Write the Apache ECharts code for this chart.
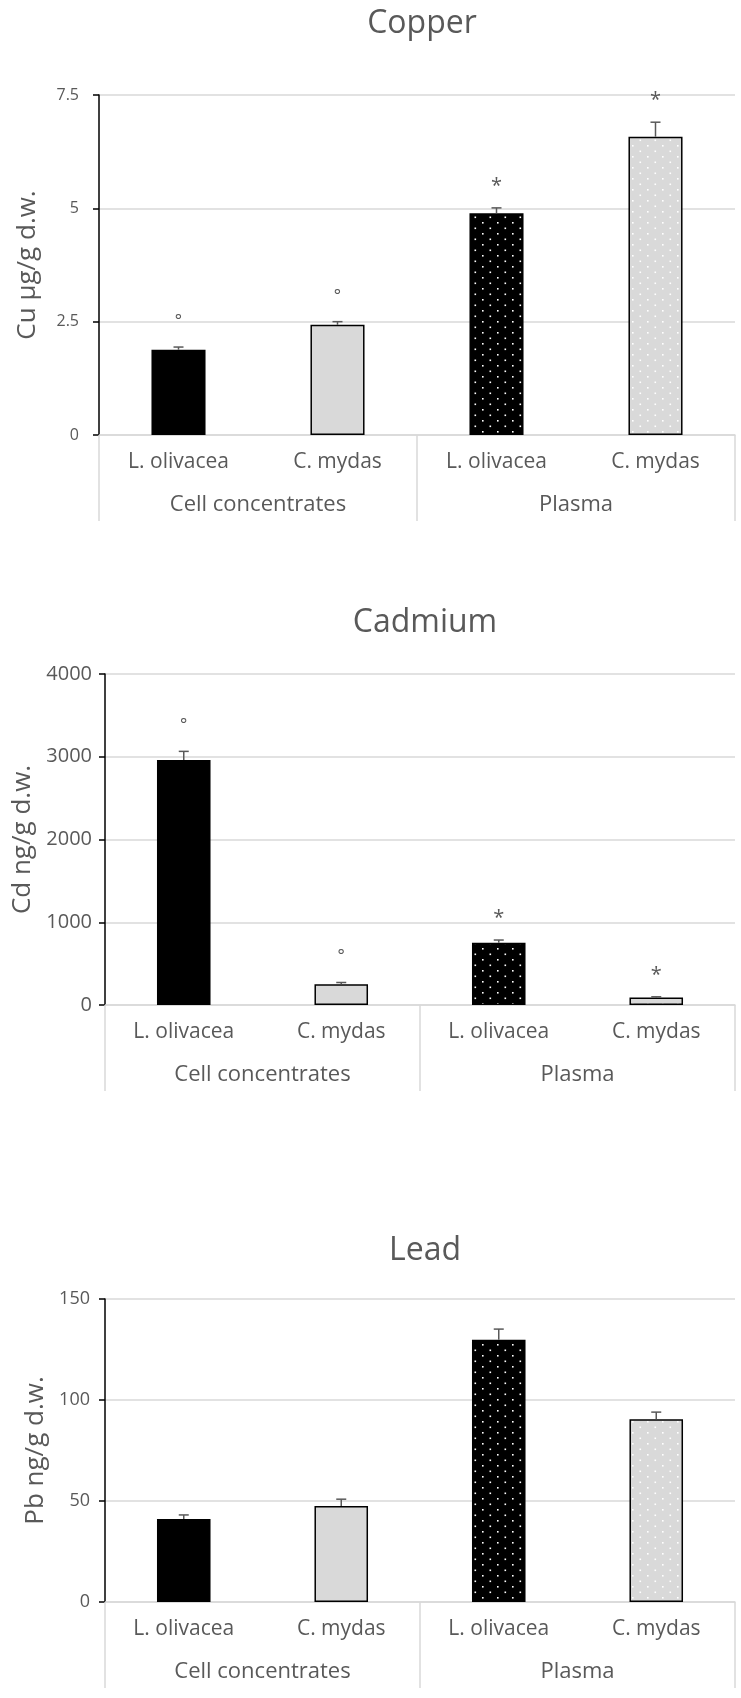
<!DOCTYPE html>
<html>
<head>
<meta charset="utf-8">
<script src="https://cdn.jsdelivr.net/npm/echarts@6/dist/echarts.min.js"></script>
<style>
html,body{margin:0;padding:0;background:#fff;}
#chart{width:741px;height:1698px;}
</style>
</head>
<body>
<div id="chart"></div>
<script>
// ---- data ----
const species = ['L. olivacea', 'C. mydas', 'L. olivacea', 'C. mydas'];
const groups = ['Cell concentrates', 'Plasma'];

const cuValues = [1.88, 2.43, 4.89, 6.58];
const cuErrors = [0.06, 0.07, 0.12, 0.32];
const cuMarks = ['°', '°', '*', '*'];

const cdValues = [2960, 252, 752, 91];
const cdErrors = [105, 20, 33, 8];
const cdMarks = ['°', '°', '*', '*'];

const pbValues = [41.1, 47.5, 129.8, 90.5];
const pbErrors = [2.0, 3.4, 5.3, 3.5];
const pbMarks = ['', '', '', ''];

const titles = ['Copper', 'Cadmium', 'Lead'];
const yNames = ['Cu µg/g d.w.', 'Cd ng/g d.w.', 'Pb ng/g d.w.'];
const yMax = [7.5, 4000, 150];
const yInterval = [2.5, 1000, 50];

// ---- styling ----
const FONT = "'Open Sans', sans-serif";
const TXT = '#595959';
const GRID = '#d9d9d9';

function makePattern(bg) {
  const c = document.createElement('canvas');
  c.width = 15; c.height = 11;
  const ctx = c.getContext('2d');
  ctx.fillStyle = bg; ctx.fillRect(0, 0, 15, 11);
  ctx.fillStyle = '#ffffff';
  ctx.fillRect(2, 2, 1.6, 1.6);
  ctx.fillRect(9.5, 7.5, 1.6, 1.6);
  return c;
}
const barColors = [
  '#000000',
  '#d9d9d9',
  { image: makePattern('#000000'), repeat: 'repeat' },
  { image: makePattern('#d9d9d9'), repeat: 'repeat' }
];

const layouts = [
  { left: 99, top: 95, height: 340, titleTop: 3, nameGap: 58, labelMargin: 20, tickFont: 16 },
  { left: 105, top: 674, height: 331, titleTop: 602, nameGap: 53, labelMargin: 13, tickFont: 20 },
  { left: 105, top: 1299, height: 303, titleTop: 1230, nameGap: 46, labelMargin: 15, tickFont: 18 }
];

const datasets = [
  { values: cuValues, errors: cuErrors, marks: cuMarks },
  { values: cdValues, errors: cdErrors, marks: cdMarks },
  { values: pbValues, errors: pbErrors, marks: pbMarks }
];

const option = {
  animation: false,
  backgroundColor: '#ffffff',
  title: [], grid: [], xAxis: [], yAxis: [], series: []
};

layouts.forEach((L, k) => {
  const plotW = 741 - 6 - L.left;
  option.title.push({
    text: titles[k], left: L.left + plotW / 2, top: L.titleTop, textAlign: 'center',
    textStyle: { fontFamily: FONT, fontSize: 32, fontWeight: 'normal', color: TXT }
  });
  option.grid.push({ left: L.left, right: 6, top: L.top, height: L.height, containLabel: false });
  option.xAxis.push({
    type: 'category', gridIndex: k, data: species, position: 'bottom', offset: 0,
    axisLine: { show: true, lineStyle: { color: GRID, width: 1.5 } },
    axisTick: { show: false },
    axisLabel: { margin: 17, fontFamily: FONT, fontSize: 21, color: TXT, interval: 0 },
    splitLine: { show: false }
  });
  option.xAxis.push({
    type: 'category', gridIndex: k, data: groups, position: 'bottom', offset: 0,
    axisLine: { show: false },
    axisTick: { show: true, length: 86, lineStyle: { color: GRID, width: 1.5 } },
    axisLabel: { margin: 59, fontFamily: FONT, fontSize: 22, color: TXT, interval: 0 },
    splitLine: { show: false }
  });
  option.yAxis.push({
    type: 'value', gridIndex: k, min: 0, max: yMax[k], interval: yInterval[k],
    name: yNames[k], nameLocation: 'middle', nameGap: L.nameGap, nameRotate: 90,
    nameTextStyle: { fontFamily: FONT, fontSize: 26, color: TXT },
    axisLine: { show: true, lineStyle: { color: '#000000', width: 1.5 } },
    axisTick: { show: true, length: 6, lineStyle: { color: '#000000', width: 1.5 } },
    axisLabel: { margin: L.labelMargin, fontFamily: FONT, fontSize: L.tickFont, color: TXT,
      formatter: function (v) { return String(v); } },
    splitLine: { show: true, lineStyle: { color: GRID, width: 1.5 } }
  });
  const D = datasets[k];
  option.series.push({
    type: 'bar', xAxisIndex: 2 * k, yAxisIndex: k, barWidth: '34%',
    data: D.values.map((v, i) => ({
      value: v,
      itemStyle: { color: barColors[i], borderColor: '#000000', borderWidth: 1.5 }
    })),
    z: 2
  });
  option.series.push({
    type: 'custom', xAxisIndex: 2 * k, yAxisIndex: k, z: 5,
    data: D.values.map((v, i) => [i, v, D.errors[i]]),
    renderItem: function (params, api) {
      const i = api.value(0), v = api.value(1), e = api.value(2);
      const base = api.coord([i, v]);
      const top = api.coord([i, v + e]);
      const children = [
        { type: 'line', shape: { x1: base[0], y1: base[1], x2: top[0], y2: top[1] },
          style: { stroke: TXT, lineWidth: 1.5 } },
        { type: 'line', shape: { x1: top[0] - 5, y1: top[1], x2: top[0] + 5, y2: top[1] },
          style: { stroke: TXT, lineWidth: 1.5 } }
      ];
      const m = D.marks[params.dataIndex];
      if (m) {
        const isStar = m === '*';
        children.push({
          type: 'text',
          style: {
            text: m, x: top[0], y: top[1] - 27 + (isStar ? 5 : 1),
            align: 'center', verticalAlign: 'middle',
            fontFamily: FONT, fontSize: isStar ? 20 : 17, fill: TXT
          }
        });
      }
      return { type: 'group', children: children };
    }
  });
});

const chart = echarts.init(document.getElementById('chart'), null, { renderer: 'canvas' });
chart.setOption(option);
</script>
</body>
</html>
